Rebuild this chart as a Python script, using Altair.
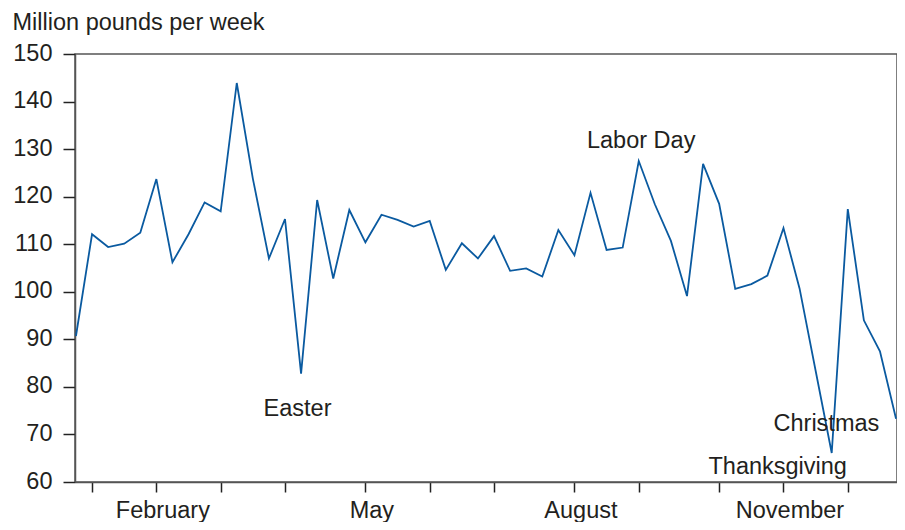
import altair as alt
import pandas as pd

# Weekly values, week index 0..51
weeks = list(range(52))
values = [90.7, 112.1, 109.4, 110.1, 112.4, 123.7, 106.2, 112.1, 118.8, 116.9,
          143.9, 123.8, 107.0, 115.3, 82.8, 119.3, 102.8, 117.2,
          110.4, 116.2, 115.1, 113.7, 114.9, 104.6, 110.2, 107.0, 111.7, 104.4,
          104.9, 103.2, 113.0, 107.7, 120.8, 108.8, 109.3,
          127.5, 118.4, 110.7, 99.1, 126.9, 118.5, 100.6, 101.6, 103.4, 113.4,
          100.7, 83.4, 66.1, 117.4, 94.0, 87.5, 73.3]

# Month tick positions (week index) and the labelled months
tick_weeks = [1, 5, 9, 13, 18, 22, 26, 31, 35, 40, 44, 48]
label_weeks = [5, 18, 31, 44]
label_names = ["February", "May", "August", "November"]

# Holiday annotations
ann_labels = ["Easter", "Labor Day", "Thanksgiving", "Christmas"]
ann_x = [13.78, 35.15, 43.64, 46.67]
ann_y = [73.8, 130.2, 61.7, 70.65]

y_ticks = [60, 70, 80, 90, 100, 110, 120, 130, 140, 150]

df = pd.DataFrame({"week": weeks, "value": values, "label": [""] * len(weeks)})
ann = pd.DataFrame({"week": ann_x, "value": ann_y, "label": ann_labels})

label_expr = "".join(f"datum.value == {w} ? '{n}' : " for w, n in zip(label_weeks, label_names)) + "''"

FONT = "Liberation Sans"
TXT = "#231f20"

xscale = alt.Scale(domain=[-0.06, 51.06], nice=False, zero=False)
yscale = alt.Scale(domain=[60, 150], nice=False, zero=False)

xaxis = alt.Axis(values=tick_weeks, labelExpr=label_expr, title=None,
                 tickSize=10, labelPadding=25, labelBaseline="alphabetic",
                 labelOffset=6, labelOverlap=False, labelFlush=False)
yaxis = alt.Axis(values=y_ticks, title="Million pounds per week",
                 tickSize=12, labelPadding=11, labelBaseline="middle",
                 labelOffset=-1,
                 titleAngle=0, titleAlign="left", titleBaseline="alphabetic",
                 titleX=-63, titleY=-25, titleFontWeight="normal",
                 titleFont=FONT, titleFontSize=23.5, titleColor=TXT)

line = alt.Chart(df).mark_line(color="#0a5aa0", strokeWidth=1.8).encode(
    x=alt.X("week:Q", scale=xscale, axis=xaxis),
    y=alt.Y("value:Q", scale=yscale, axis=yaxis),
)

text = alt.Chart(ann).mark_text(font=FONT, fontSize=23.5, color=TXT,
                                align="center", baseline="alphabetic").encode(
    x=alt.X("week:Q", scale=xscale, axis=xaxis),
    y=alt.Y("value:Q", scale=yscale, axis=yaxis),
    text="label:N",
)

chart = alt.layer(line, text).properties(
    width=822, height=428,
    autosize=alt.AutoSizeParams(type="none"),
    padding={"left": 67, "top": 46, "right": 0, "bottom": 40},
).configure_view(
    stroke="#555555", strokeWidth=1.5
).configure_axis(
    grid=False, domainColor="#555555", domainWidth=1.5,
    tickColor="#222222", tickWidth=1.5,
    labelFont=FONT, labelFontSize=23.5, labelColor=TXT,
)

chart.save("out.html", embed_options={"renderer": "svg", "actions": False})
